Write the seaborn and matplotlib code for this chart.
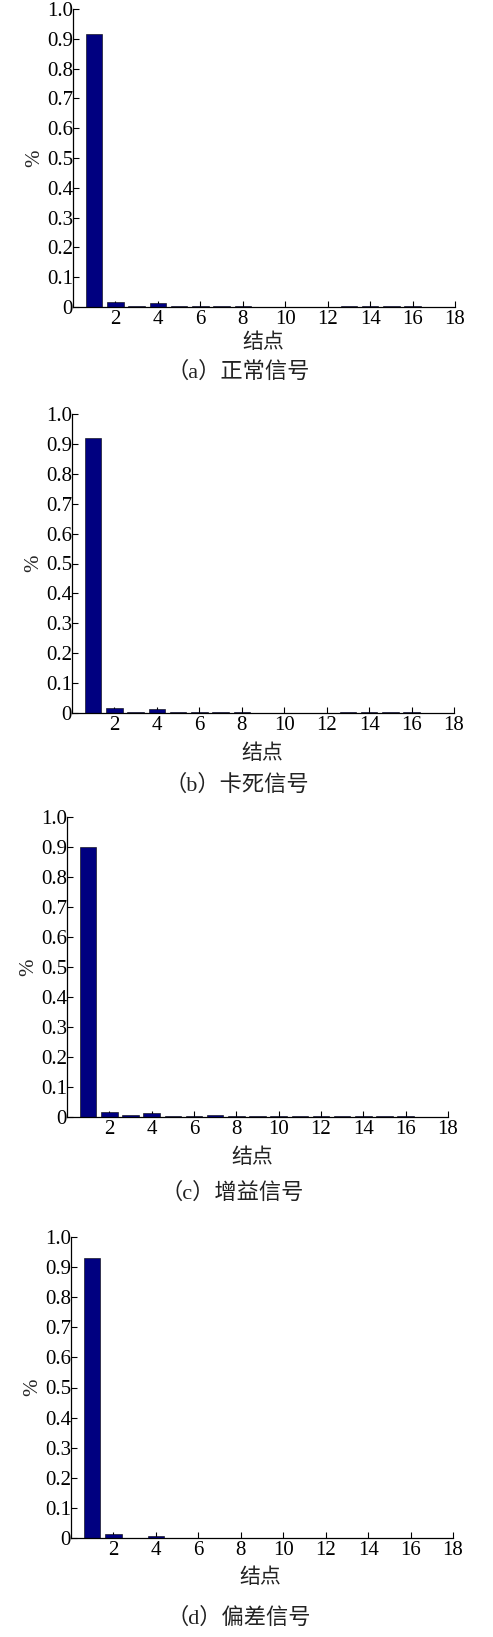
import matplotlib
matplotlib.use("Agg")
import matplotlib.pyplot as plt
import seaborn as sns
import numpy as np
import pandas as pd

# ---------------- data ----------------
nodes = list(range(1, 18))
normal_vals = [0.915, 0.017, 0.005, 0.012, 0.002, 0.003, 0.005, 0.003, 0.0, 0.0, 0.0, 0.0, 0.002, 0.003, 0.002, 0.003, 0.0]
stuck_vals = [0.920, 0.017, 0.005, 0.012, 0.002, 0.002, 0.005, 0.002, 0.0, 0.0, 0.0, 0.0, 0.002, 0.002, 0.002, 0.002, 0.0]
gain_vals = [0.900, 0.018, 0.007, 0.012, 0.003, 0.003, 0.006, 0.003, 0.003, 0.003, 0.003, 0.003, 0.003, 0.003, 0.003, 0.003, 0.0]
bias_vals = [0.930, 0.012, 0.0, 0.006, 0.0, 0.0, 0.0, 0.0, 0.0, 0.0, 0.0, 0.0, 0.0, 0.0, 0.0, 0.0, 0.0]
captions = ["（a）正常信号", "（b）卡死信号", "（c）增益信号", "（d）偏差信号"]
xlabel_text = "结点"
ylabel_text = "%"
x_ticks = [2, 4, 6, 8, 10, 12, 14, 16, 18]
y_ticks = [0, 0.1, 0.2, 0.3, 0.4, 0.5, 0.6, 0.7, 0.8, 0.9, 1.0]
y_tick_labels = ["0", "0.1", "0.2", "0.3", "0.4", "0.5", "0.6", "0.7", "0.8", "0.9", "1.0"]

series = [normal_vals, stuck_vals, gain_vals, bias_vals]

# ---------------- style ----------------
sns.set_style("ticks")
plt.rcParams['font.family'] = ['Liberation Serif', 'Noto Sans CJK SC', 'DejaVu Sans']
plt.rcParams['xtick.direction'] = 'in'
plt.rcParams['ytick.direction'] = 'in'

W, H = 493, 1637
fig = plt.figure(figsize=(W / 100, H / 100), dpi=100)

# pixel layout per panel: (left, right, top(1.0), bottom(0), xlabel_y, caption_y, xlabel_x, caption_x)
layout = [
    (73, 455, 9, 307, 342, 372, 263, 238),
    (72, 454, 414, 713, 753, 785, 262, 237),
    (67, 448, 817, 1117, 1157, 1193, 252, 232),
    (71, 453, 1237, 1538, 1577, 1618, 260, 239),
]

bar_color = "#000080"

for vals, cap, (l, r, t, b, xl_y, cap_y, xl_x, cap_x) in zip(series, captions, layout):
    ax = fig.add_axes([l / W, 1 - b / H, (r - l) / W, (b - t) / H])
    df = pd.DataFrame({"node": nodes, "val": vals})
    sns.barplot(data=df, x="node", y="val", native_scale=True, color=bar_color,
                saturation=1, width=0.78, edgecolor="black", linewidth=0.4, ax=ax)
    ax.set_xlim(0, 18)
    ax.set_ylim(0, 1.0)
    ax.set_xticks(x_ticks)
    ax.set_xticklabels([str(v) for v in x_ticks], fontsize=15)
    ax.set_yticks(y_ticks)
    ax.set_yticklabels(y_tick_labels, fontsize=15)
    ax.tick_params(axis='both', length=4, width=0.8, colors='black')
    ax.tick_params(axis='x', pad=2)
    ax.tick_params(axis='y', pad=0)
    for s in ['top', 'right']:
        ax.spines[s].set_visible(False)
    for s in ['left', 'bottom']:
        ax.spines[s].set_linewidth(0.9)
        ax.spines[s].set_color('black')
    ax.set_xlabel("")
    ax.set_ylabel(ylabel_text, fontsize=15, labelpad=2)
    fig.text(xl_x / W, 1 - xl_y / H, xlabel_text, ha='center', va='center', fontsize=15,
             family=['Noto Sans CJK SC'], color='#222222')
    fig.text(cap_x / W, 1 - cap_y / H, cap, ha='center', va='center', fontsize=16,
             family=['Liberation Serif', 'Noto Sans CJK SC'], color='#222222')

fig.savefig("out.png", dpi=100, facecolor='white')
